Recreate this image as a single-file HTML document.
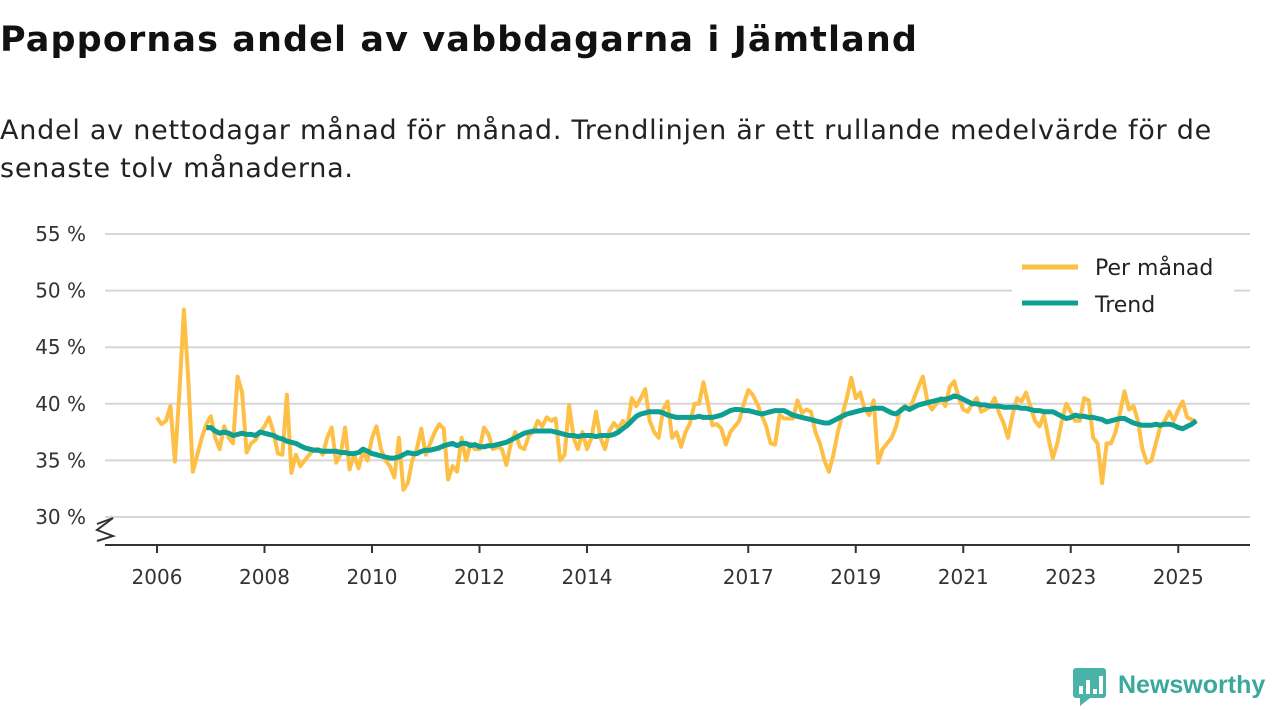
<!DOCTYPE html>
<html><head><meta charset="utf-8"><style>
body{margin:0;width:1280px;height:720px;background:#fff;font-family:"DejaVu Sans","Liberation Sans",sans-serif;color:#111;overflow:hidden;position:relative}
h1{position:absolute;left:0;top:20px;margin:0;font-size:35px;font-weight:bold;letter-spacing:1.1px;white-space:nowrap}
.sub{position:absolute;left:0;top:112px;font-size:27px;line-height:38px;color:#222;letter-spacing:0.75px;white-space:nowrap}
svg{position:absolute;left:0;top:0;font-family:"DejaVu Sans","Liberation Sans",sans-serif}
</style></head><body>
<h1>Pappornas andel av vabbdagarna i Jämtland</h1>
<div class="sub">Andel av nettodagar månad för månad. Trendlinjen är ett rullande medelvärde för de<br>senaste tolv månaderna.</div>
<svg id="chart" width="1280" height="720"></svg>
<script>
const yTicks=[30,35,40,45,50,55];
const xTickYears=[2006,2008,2010,2012,2014,2017,2019,2021,2023,2025];
const startYear=2006;
const monthly=[38.8,38.2,38.5,39.8,34.9,41,48.3,42,34,35.5,37,38.2,
38.9,37,36,38,37,36.5,42.4,41,35.7,36.5,36.8,37.5,
38,38.8,37.5,35.6,35.5,40.8,33.9,35.5,34.5,35,35.5,36,
36,35.5,37,37.9,34.8,35.5,37.9,34.2,35.5,34.3,35.8,35,
37,38,36,35,34.5,33.5,37,32.4,33,35,36,37.8,
35.5,36.5,37.5,38.2,37.8,33.3,34.5,34,37,35,36.5,36,
36,37.9,37.3,36,36.2,36,34.6,36.5,37.5,36.2,36,37.2,
37.5,38.5,38,38.8,38.5,38.7,35,35.5,39.9,37,36,37.5,
36,37,39.3,37,36,37.6,38.3,37.8,38.5,38,40.5,39.8,
40.5,41.3,38.5,37.5,37,39.5,40.2,37,37.5,36.2,37.5,38.3,
40,40,41.9,40,38.1,38.2,37.8,36.4,37.5,38,38.5,40,
41.2,40.8,40,39,38,36.5,36.4,39,38.7,38.7,38.7,40.3,
39.2,39.5,39.3,37.5,36.5,35,34,35.5,37.5,39,40.5,42.3,
40.5,41,39.5,39,40.3,34.8,36,36.5,37,38,39.5,39.8,
39.5,40.5,41.5,42.4,40.2,39.5,40,40.5,39.8,41.5,42,40.5,
39.5,39.3,40,40.5,39.3,39.5,39.8,40.5,39.2,38.3,37,39,
40.5,40.2,41,39.8,38.5,38,39,37,35.2,36.5,38.5,40,
39.3,38.5,38.5,40.5,40.3,37,36.5,33,36.5,36.5,37.5,39.2,
41.1,39.5,39.8,38.5,36,34.8,35,36.5,38,38.5,39.3,38.5,
39.5,40.2,38.8,38.6,38.4];
const trendStart=11;
const trend=[37.9,
37.9,37.6,37.4,37.5,37.4,37.2,37.3,37.4,37.3,37.3,37.2,37.5,
37.4,37.3,37.2,37.0,36.9,36.7,36.6,36.5,36.3,36.1,36.0,35.9,
35.9,35.8,35.8,35.8,35.8,35.7,35.7,35.6,35.6,35.7,36.0,35.8,
35.6,35.5,35.4,35.3,35.2,35.2,35.3,35.5,35.7,35.6,35.6,35.8,
35.9,35.9,36.0,36.1,36.3,36.4,36.5,36.3,36.5,36.5,36.3,36.4,
36.2,36.2,36.3,36.3,36.4,36.5,36.6,36.8,37.0,37.2,37.4,37.5,
37.6,37.6,37.6,37.6,37.6,37.5,37.4,37.3,37.2,37.2,37.1,37.2,
37.2,37.2,37.1,37.2,37.2,37.2,37.3,37.5,37.8,38.1,38.5,38.9,
39.1,39.2,39.3,39.3,39.3,39.2,39.0,38.9,38.8,38.8,38.8,38.8,
38.8,38.9,38.8,38.8,38.8,38.9,39.0,39.2,39.4,39.5,39.5,39.4,
39.4,39.3,39.2,39.1,39.2,39.3,39.4,39.4,39.4,39.2,39.0,38.9,
38.8,38.7,38.6,38.5,38.4,38.3,38.3,38.5,38.7,38.9,39.1,39.2,
39.3,39.4,39.5,39.5,39.6,39.6,39.6,39.4,39.2,39.1,39.4,39.7,
39.5,39.7,39.9,40.0,40.1,40.2,40.3,40.4,40.4,40.5,40.7,40.6,
40.4,40.2,40.0,40.0,39.9,39.9,39.8,39.8,39.8,39.7,39.7,39.7,
39.7,39.6,39.6,39.5,39.4,39.4,39.3,39.3,39.3,39.1,38.9,38.7,
38.8,39.0,38.9,38.9,38.8,38.8,38.7,38.6,38.4,38.5,38.6,38.7,
38.7,38.5,38.3,38.2,38.1,38.1,38.1,38.2,38.1,38.2,38.2,38.1,
37.9,37.8,38.0,38.2,38.5];
const NS='http://www.w3.org/2000/svg';
const svg=document.getElementById('chart');
const x=t=>157+(t-startYear)*53.75;
const y=v=>517-(v-30)*11.32;
function el(tag,attrs,parent){const e=document.createElementNS(NS,tag);for(const k in attrs)e.setAttribute(k,attrs[k]);(parent||svg).appendChild(e);return e;}
yTicks.forEach(v=>{
 const g=el('line',{x1:105,x2:1250,y1:y(v),y2:y(v),stroke:'#d6d6d6','stroke-width':2});
 
 
 const t=el('text',{x:86,y:y(v)+7,'text-anchor':'end','font-size':20,fill:'#333'});
 t.textContent=v+' %';
 
 
});
const ax=el('line',{x1:105,x2:1250,y1:545,y2:545,stroke:'#333','stroke-width':2});


const zz=el('polyline',{points:'97,524 113,518 97,530 113,536 97,541',fill:'none',stroke:'#333','stroke-width':2});


xTickYears.forEach(yr=>{
 const tk=el('line',{x1:x(yr),x2:x(yr),y1:545,y2:553,stroke:'#333','stroke-width':2});
 
 
 const t=el('text',{x:x(yr),y:584,'text-anchor':'middle','font-size':20,fill:'#333'});
 t.textContent=yr;
 
 
});
const mp=monthly.map((v,i)=>x(startYear+i/12).toFixed(1)+','+y(v).toFixed(1)).join(' ');
const ml=el('polyline',{points:mp,fill:'none',stroke:'#fdbf45','stroke-width':4,'stroke-linejoin':'round'});


const tp=trend.map((v,i)=>x(startYear+(i+trendStart)/12).toFixed(1)+','+y(v).toFixed(1)).join(' ');
const tl=el('polyline',{points:tp,fill:'none',stroke:'#0e9e92','stroke-width':5,'stroke-linejoin':'round'});


const lg=el('g',{});


el('rect',{x:1012,y:248,width:222,height:72,fill:'#fff'},lg);
el('line',{x1:1022,x2:1078,y1:267,y2:267,stroke:'#fdbf45','stroke-width':5},lg);
el('line',{x1:1022,x2:1078,y1:303,y2:303,stroke:'#0e9e92','stroke-width':5},lg);
const l1=el('text',{x:1095,y:275,'font-size':22,fill:'#222'},lg);l1.textContent='Per månad';


const l2=el('text',{x:1095,y:312,'font-size':22,fill:'#222'},lg);l2.textContent='Trend';


const logo=el('g',{});


el('rect',{x:1073,y:668,width:33,height:30,rx:3,fill:'#4ab3a8'},logo);
el('polygon',{points:'1080,698 1090,698 1080,706',fill:'#4ab3a8'},logo);
[[1079,686,4,8],[1086,680,4,14],[1093,689,4,5],[1099,676,4,18]].forEach(r=>el('rect',{x:r[0],y:r[1],width:r[2],height:r[3],fill:'#fff'},logo));
const lt=el('text',{x:1118,y:693,'font-size':25,'font-weight':'bold',fill:'#3aa89c','font-family':'Liberation Sans, sans-serif'},logo);lt.textContent='Newsworthy';
</script>
</body></html>
